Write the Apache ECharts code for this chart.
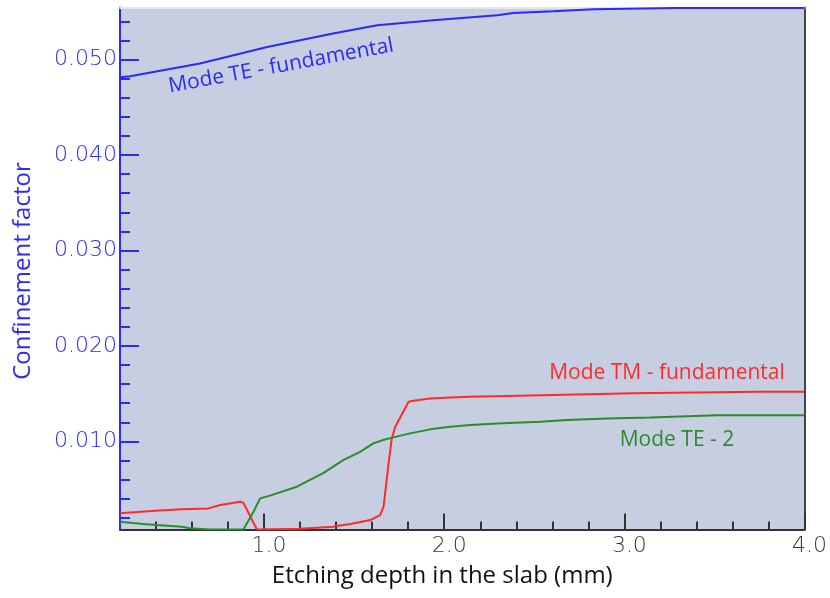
<!DOCTYPE html>
<html>
<head>
<meta charset="utf-8">
<script src="https://cdn.jsdelivr.net/npm/echarts@6/dist/echarts.min.js"></script>
<style>
html,body{margin:0;padding:0;background:#fff;}
#c{width:830px;height:598px;}
</style>
</head>
<body>
<div id="c"></div>
<script>
// ---- data (etching depth in mm, confinement factor) ----
const teFundX = [0.2, 0.256, 0.644, 1.017, 1.383, 1.628, 1.939, 2.294, 2.383, 2.606, 2.828, 3.283, 4.0];
const teFundY = [0.04815, 0.04825, 0.04958, 0.05132, 0.05272, 0.05359, 0.05412, 0.05464, 0.05488, 0.05506, 0.05527, 0.0554, 0.0554];

const tmFundX = [0.2, 0.394, 0.543, 0.691, 0.756, 0.867, 0.885, 0.96, 1.2, 1.383, 1.404, 1.478, 1.589, 1.644, 1.663, 1.691, 1.709, 1.728, 1.802, 1.828, 1.922, 2.033, 2.144, 2.606, 3.05, 3.744, 4.0];
const tmFundY = [0.00246, 0.00273, 0.00288, 0.00298, 0.00333, 0.00368, 0.00357, 0.00077, 0.00085, 0.00106, 0.00113, 0.00134, 0.00176, 0.00228, 0.00315, 0.0077, 0.01031, 0.01153, 0.01415, 0.01425, 0.0145, 0.01461, 0.01467, 0.01485, 0.01503, 0.0152, 0.0152];

const te2X = [0.2, 0.256, 0.33, 0.404, 0.543, 0.589, 0.7, 0.885, 0.941, 0.978, 1.033, 1.182, 1.328, 1.439, 1.533, 1.606, 1.661, 1.717, 1.811, 1.922, 2.033, 2.144, 2.294, 2.533, 2.683, 2.906, 3.144, 3.517, 4.0];
const te2Y = [0.00158, 0.00148, 0.00134, 0.00124, 0.00106, 0.00089, 0.00077, 0.00077, 0.00263, 0.00403, 0.00432, 0.00525, 0.00668, 0.00804, 0.00891, 0.00979, 0.01014, 0.01042, 0.01084, 0.01126, 0.01153, 0.01171, 0.01188, 0.01205, 0.01223, 0.01241, 0.01251, 0.01275, 0.01275];

const xMajorTicks = [1.0, 2.0, 3.0, 4.0];
const xMinorTicks = [0.4, 0.6, 0.8, 1.2, 1.4, 1.6, 1.8, 2.2, 2.4, 2.6, 2.8, 3.2, 3.4, 3.6, 3.8];
const yMajorTicks = [0.01, 0.02, 0.03, 0.04, 0.05];
const yMinorTicks = [0.002, 0.004, 0.006, 0.008, 0.012, 0.014, 0.016, 0.018, 0.022, 0.024, 0.026, 0.028,
                     0.032, 0.034, 0.036, 0.038, 0.042, 0.044, 0.046, 0.048, 0.052, 0.054];

const seriesNames = ['Mode TE - fundamental', 'Mode TM - fundamental', 'Mode TE - 2'];
const xTitle = 'Etching depth in the slab (mm)';
const yTitle = 'Confinement factor';

const X_MIN = 0.2, X_MAX = 4.0, Y_MIN = 0.00077, Y_MAX = 0.05545;

const zip = (xs, ys) => xs.map((x, i) => [x, ys[i]]);

const BLUE = '#2a2aff', RED = '#ff2b2b', GREEN = '#2a8c2a', AXISDARK = '#333333';
const labelFont = 'DejaVu Sans';
const titleFont = 'Open Sans';

const chart = echarts.init(document.getElementById('c'), null, {renderer: 'canvas'});

chart.setOption({
  animation: false,
  grid: {left: 120, right: 24.5, top: 7.5, bottom: 68.5, show: true,
         backgroundColor: '#c8cee1', borderWidth: 0},
  xAxis: [
    {type: 'value', min: X_MIN, max: X_MAX, position: 'bottom',
     axisLine: {show: true, onZero: false, lineStyle: {color: AXISDARK, width: 2}},
     axisTick: {show: true, inside: true, length: 16, customValues: xMajorTicks, lineStyle: {color: AXISDARK, width: 2}},
     axisLabel: {show: true, customValues: xMajorTicks, margin: 6, color: '#3a3a3a', fontFamily: labelFont, fontWeight: 200, fontSize: 22,
                 padding: [0, 0, 0, 10], formatter: v => v.toFixed(1)},
     splitLine: {show: false},
     name: xTitle, nameLocation: 'middle', nameGap: 35,
     nameTextStyle: {color: '#111', fontFamily: titleFont, fontSize: 24, padding: [0, 40, 0, 0]}},
    {type: 'value', min: X_MIN, max: X_MAX, position: 'bottom',
     axisLine: {show: false},
     axisTick: {show: true, inside: true, length: 8, customValues: xMinorTicks, lineStyle: {color: AXISDARK, width: 2}},
     axisLabel: {show: false}, splitLine: {show: false}},
    {type: 'value', min: X_MIN, max: X_MAX, position: 'top',
     axisLine: {show: true, onZero: false, lineStyle: {color: '#e4e6ee', width: 2}},
     axisTick: {show: false}, axisLabel: {show: false}, splitLine: {show: false}}
  ],
  yAxis: [
    {type: 'value', min: Y_MIN, max: Y_MAX, position: 'left',
     axisLine: {show: true, onZero: false, lineStyle: {color: BLUE, width: 2}},
     axisTick: {show: true, inside: true, length: 19, customValues: yMajorTicks, lineStyle: {color: BLUE, width: 2}},
     axisLabel: {show: true, customValues: yMajorTicks, margin: 3, color: BLUE, fontFamily: labelFont, fontWeight: 200, fontSize: 22,
                 formatter: v => v.toFixed(3)},
     splitLine: {show: false},
     name: yTitle, nameLocation: 'middle', nameGap: 85, nameRotate: 90,
     nameTextStyle: {color: BLUE, fontFamily: titleFont, fontSize: 24, padding: [0, 5, 0, 0]}},
    {type: 'value', min: Y_MIN, max: Y_MAX, position: 'left',
     axisLine: {show: false},
     axisTick: {show: true, inside: true, length: 10, customValues: yMinorTicks, lineStyle: {color: BLUE, width: 2}},
     axisLabel: {show: false}, splitLine: {show: false}},
    {type: 'value', min: Y_MIN, max: Y_MAX, position: 'right',
     axisLine: {show: true, onZero: false, lineStyle: {color: '#444', width: 2}},
     axisTick: {show: false}, axisLabel: {show: false}, splitLine: {show: false}}
  ],
  series: [
    {name: seriesNames[0], type: 'line', xAxisIndex: 0, yAxisIndex: 0, data: zip(teFundX, teFundY),
     symbol: 'none', lineStyle: {color: BLUE, width: 2}, z: 3},
    {name: seriesNames[1], type: 'line', xAxisIndex: 0, yAxisIndex: 0, data: zip(tmFundX, tmFundY),
     symbol: 'none', lineStyle: {color: RED, width: 2}, z: 3},
    {name: seriesNames[2], type: 'line', xAxisIndex: 0, yAxisIndex: 0, data: zip(te2X, te2Y),
     symbol: 'none', lineStyle: {color: GREEN, width: 2}, z: 4}
  ],
  graphic: [
    {type: 'text', x: 281, y: 66, rotation: 0.182, z: 10,
     style: {text: seriesNames[0], fill: BLUE, font: '21px "Open Sans"', align: 'center', verticalAlign: 'middle'}},
    {type: 'text', x: 667, y: 373, z: 10,
     style: {text: seriesNames[1], fill: RED, font: '21px "Open Sans"', align: 'center', verticalAlign: 'middle'}},
    {type: 'text', x: 677, y: 440, z: 10,
     style: {text: seriesNames[2], fill: GREEN, font: '21px "Open Sans"', align: 'center', verticalAlign: 'middle'}}
  ]
});
</script>
</body>
</html>
